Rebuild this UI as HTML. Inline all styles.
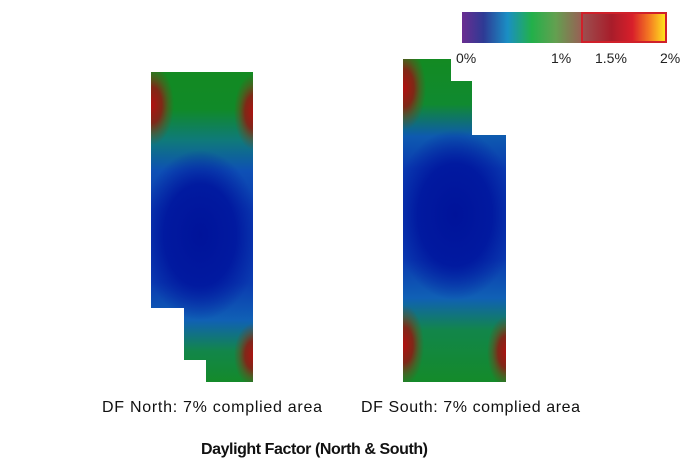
<!DOCTYPE html>
<html><head><meta charset="utf-8"><style>body{margin:0;background:#fff}svg{display:block}</style></head><body>
<svg width="689" height="469" viewBox="0 0 689 469" xmlns="http://www.w3.org/2000/svg" font-family="Liberation Sans, sans-serif">
<defs>
<linearGradient id="cb" x1="0" x2="1"><stop offset="0" stop-color="#6a2d91"/><stop offset="0.18" stop-color="#2e3a94"/><stop offset="0.38" stop-color="#1a8fc4"/><stop offset="0.58" stop-color="#22b04a"/><stop offset="0.78" stop-color="#63a050"/><stop offset="1" stop-color="#9a5e55"/></linearGradient>
<linearGradient id="cb2" x1="0" x2="1"><stop offset="0" stop-color="#9b5050"/><stop offset="0.35" stop-color="#a81d2a"/><stop offset="0.6" stop-color="#d81f2a"/><stop offset="0.8" stop-color="#f47a22"/><stop offset="1" stop-color="#ffe81e"/></linearGradient>
<linearGradient id="nv" x1="0" y1="72" x2="0" y2="382" gradientUnits="userSpaceOnUse">
<stop offset="0" stop-color="#138a22"/><stop offset="0.12" stop-color="#108a28"/><stop offset="0.22" stop-color="#0f7a7a"/><stop offset="0.32" stop-color="#0e50b5"/><stop offset="0.45" stop-color="#0a3ab0"/><stop offset="0.68" stop-color="#0a3ab0"/><stop offset="0.8" stop-color="#1060b5"/><stop offset="0.9" stop-color="#12864a"/><stop offset="1" stop-color="#148a2a"/></linearGradient>
<linearGradient id="sv" x1="0" y1="59" x2="0" y2="382" gradientUnits="userSpaceOnUse">
<stop offset="0" stop-color="#138a22"/><stop offset="0.14" stop-color="#108a30"/><stop offset="0.24" stop-color="#0e5ab0"/><stop offset="0.34" stop-color="#0a3ab0"/><stop offset="0.62" stop-color="#0a3ab0"/><stop offset="0.74" stop-color="#1060b5"/><stop offset="0.84" stop-color="#12864a"/><stop offset="1" stop-color="#148a2a"/></linearGradient>
<radialGradient id="blu"><stop offset="0" stop-color="#00139a"/><stop offset="0.6" stop-color="#00169e" stop-opacity="0.9"/><stop offset="1" stop-color="#00189f" stop-opacity="0"/></radialGradient>
<radialGradient id="red"><stop offset="0" stop-color="#b01010"/><stop offset="0.45" stop-color="#8a1e14" stop-opacity="0.9"/><stop offset="0.75" stop-color="#7a3a18" stop-opacity="0.4"/><stop offset="1" stop-color="#7a3a18" stop-opacity="0"/></radialGradient>
<clipPath id="nc"><path d="M151 72H253V382H206V360H184V308H151Z"/></clipPath>
<clipPath id="sc"><path d="M403 59H451V81H472V135H506V382H403Z"/></clipPath>
</defs>
<rect x="462" y="12" width="120" height="31" fill="url(#cb)"/>
<rect x="582" y="13" width="84" height="29" fill="url(#cb2)" stroke="#d0202a" stroke-width="2"/>
<g font-size="14" fill="#222">
<text x="456" y="63">0%</text><text x="551" y="63">1%</text><text x="595" y="63">1.5%</text><text x="660" y="63">2%</text></g>
<g clip-path="url(#nc)">
<rect x="140" y="60" width="120" height="330" fill="url(#nv)"/>
<ellipse cx="200" cy="235" rx="60" ry="85" fill="url(#blu)"/>
<ellipse cx="152" cy="105" rx="22" ry="40" fill="url(#red)"/>
<ellipse cx="254" cy="112" rx="20" ry="38" fill="url(#red)"/>
<ellipse cx="254" cy="355" rx="20" ry="32" fill="url(#red)"/>
</g>
<g clip-path="url(#sc)">
<rect x="400" y="55" width="110" height="335" fill="url(#sv)"/>
<ellipse cx="455" cy="215" rx="62" ry="85" fill="url(#blu)"/>
<ellipse cx="404" cy="88" rx="22" ry="42" fill="url(#red)"/>
<ellipse cx="404" cy="345" rx="20" ry="40" fill="url(#red)"/>
<ellipse cx="507" cy="352" rx="20" ry="36" fill="url(#red)"/>
</g>
<g font-size="16" fill="#111">
<text x="102" y="412" textLength="220">DF North: 7% complied area</text>
<text x="361" y="412" textLength="219">DF South: 7% complied area</text>
<text x="201" y="454" font-weight="bold" textLength="227">Daylight Factor (North &amp; South)</text>
</g>
</svg>
</body></html>
